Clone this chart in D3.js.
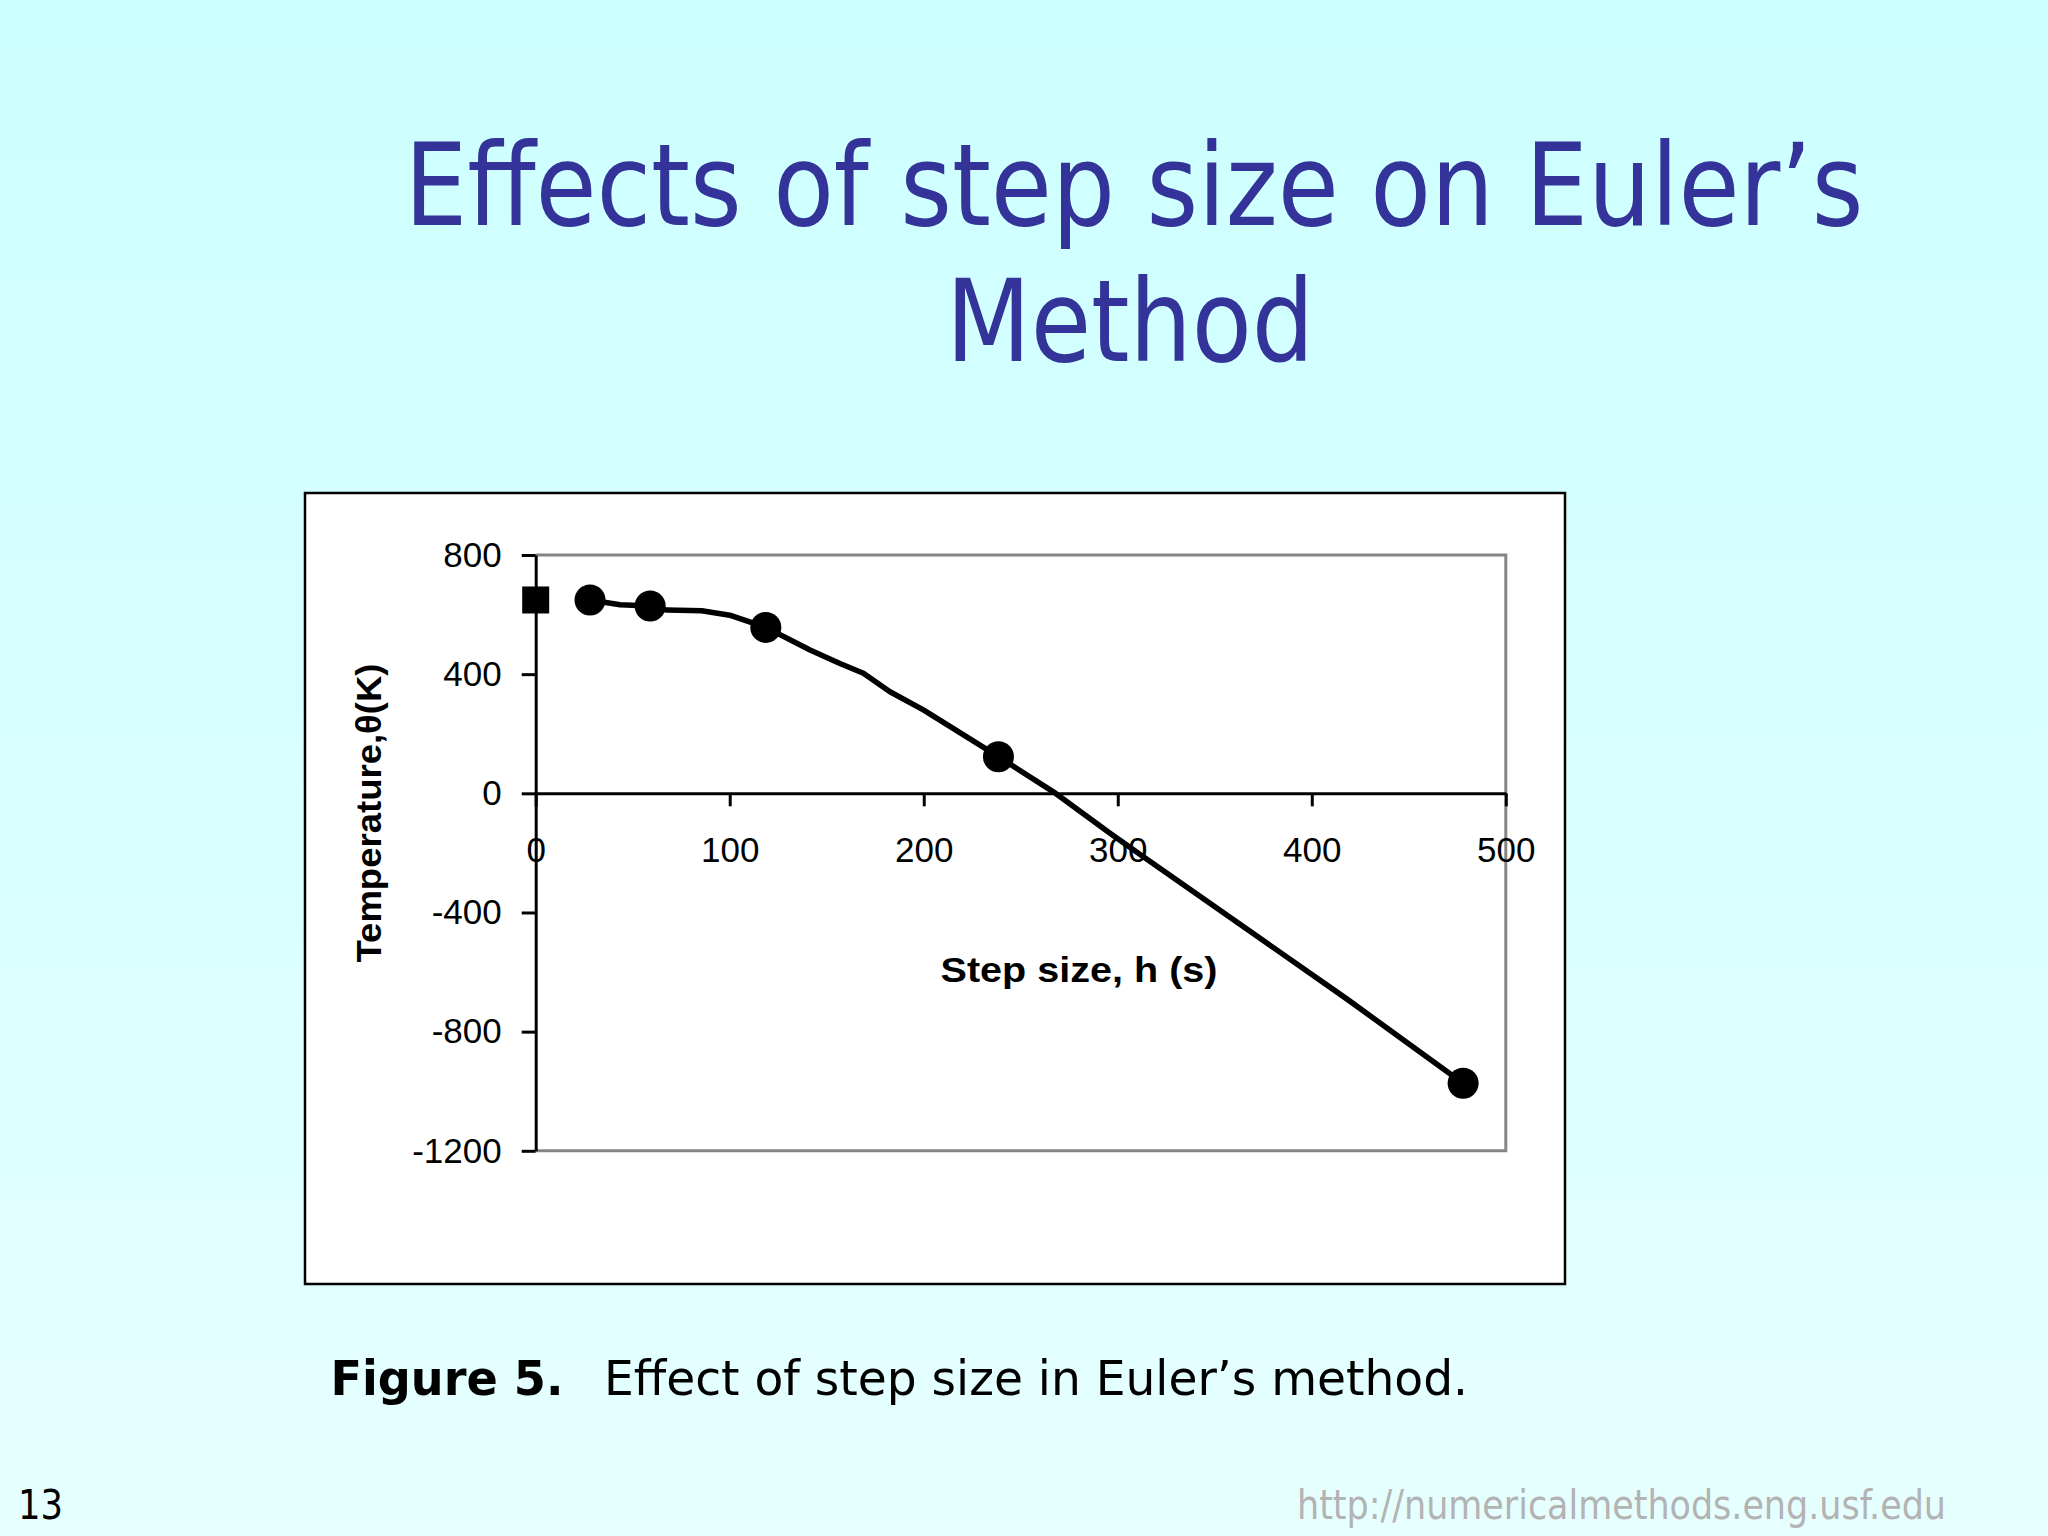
<!DOCTYPE html>
<html>
<head>
<meta charset="utf-8">
<script src="https://cdn.jsdelivr.net/npm/d3@7"></script>
<style>
  html, body { margin: 0; padding: 0; }
  body { width: 2048px; height: 1536px; overflow: hidden; }
</style>
</head>
<body>
<div id="chart"></div>
<script>
// step size h (s) and theta(480)
var lineH = [28, 43.5, 59, 67.5, 85.6, 100, 118.6, 141.4, 156.8, 168.9, 182.6, 199.8, 238.5, 266.8, 296, 313.2, 418, 478];
var lineT = [649, 633, 629, 615, 613, 598, 557, 481, 436, 403, 341, 280, 123, 5, -134, -213, -690, -973];

var markerH = [28, 59, 118.6, 238.5, 478];
var markerT = [649, 629, 557, 123, -973];

var exactH = [0];
var exactT = [649];

var xTicks = [0, 100, 200, 300, 400, 500];
var yTicks = [-1200, -800, -400, 0, 400, 800];

var W = 2048, H = 1536;

var svg = d3.select('#chart')
  .append('svg')
  .attr('width', W)
  .attr('height', H);

// slide background
var grad = svg.append('defs').append('linearGradient')
  .attr('id', 'bg')
  .attr('x1', 0).attr('y1', 0).attr('x2', 0).attr('y2', 1);
grad.append('stop').attr('offset', '0%').attr('stop-color', '#ccffff');
grad.append('stop').attr('offset', '100%').attr('stop-color', '#e6ffff');

svg.append('rect')
  .attr('width', W).attr('height', H)
  .attr('fill', 'url(#bg)');

// title
var title = svg.append('g')
  .attr('fill', '#333399')
  .style('font-family', '"DejaVu Sans Condensed", "DejaVu Sans", sans-serif')
  .style('font-size', '114px');
title.append('text')
  .attr('x', 404.5).attr('y', 225)
  .attr('textLength', 1459).attr('lengthAdjust', 'spacingAndGlyphs')
  .text('Effects of step size on Euler\u2019s');
title.append('text')
  .attr('x', 946).attr('y', 361)
  .attr('textLength', 368).attr('lengthAdjust', 'spacingAndGlyphs')
  .text('Method');

// chart frame
svg.append('rect')
  .attr('x', 305).attr('y', 493)
  .attr('width', 1260).attr('height', 791)
  .attr('fill', '#ffffff')
  .attr('stroke', '#000000')
  .attr('stroke-width', 2.5);

var x = d3.scaleLinear().domain([0, 500]).range([535.7, 1505.8]);
var y = d3.scaleLinear().domain([-1200, 800]).range([1150.8, 555]);

var plot = svg.append('g');

// gray plot area border (top, right, bottom)
plot.append('path')
  .attr('d', 'M' + x(0) + ',' + y(800) + 'H' + x(500) + 'V' + y(-1200) + 'H' + x(0))
  .attr('fill', 'none')
  .attr('stroke', '#858585')
  .attr('stroke-width', 3);

var plain = function(d) { return String(d); };

// x axis through zero
var xAxis = plot.append('g')
  .attr('transform', 'translate(0,' + y(0) + ')')
  .call(d3.axisBottom(x).tickValues(xTicks).tickSize(13).tickSizeOuter(0).tickPadding(31)
    .tickFormat(plain));

// y axis
var yAxis = plot.append('g')
  .attr('transform', 'translate(' + x(0) + ',0)')
  .call(d3.axisLeft(y).tickValues(yTicks).tickSize(14).tickSizeOuter(0).tickPadding(20)
    .tickFormat(plain));

[xAxis, yAxis].forEach(function(a) {
  a.selectAll('path.domain').attr('stroke', '#000').attr('stroke-width', 3);
  a.selectAll('.tick line').attr('stroke', '#000').attr('stroke-width', 3);
  a.selectAll('.tick text')
    .attr('fill', '#000')
    .style('font-family', '"Liberation Sans", Arial, sans-serif')
    .style('font-size', '35px');
});

// axis titles
svg.append('text')
  .attr('x', 1079).attr('y', 982)
  .attr('text-anchor', 'middle')
  .attr('textLength', 277).attr('lengthAdjust', 'spacingAndGlyphs')
  .style('font-family', '"Liberation Sans", Arial, sans-serif')
  .style('font-size', '35px')
  .style('font-weight', 'bold')
  .text('Step size, h (s)');

svg.append('text')
  .attr('transform', 'translate(381,813) rotate(-90)')
  .attr('text-anchor', 'middle')
  .attr('textLength', 299).attr('lengthAdjust', 'spacingAndGlyphs')
  .style('font-family', '"Liberation Sans", Arial, sans-serif')
  .style('font-size', '35px')
  .style('font-weight', 'bold')
  .text('Temperature,\u03b8(K)');

// data line
var lineData = lineH.map(function(h, i) { return [h, lineT[i]]; });
var line = d3.line()
  .x(function(d) { return x(d[0]); })
  .y(function(d) { return y(d[1]); });

plot.append('path')
  .datum(lineData)
  .attr('d', line)
  .attr('fill', 'none')
  .attr('stroke', '#000')
  .attr('stroke-width', 5.5)
  .attr('stroke-linejoin', 'round');

// circle markers
var markers = markerH.map(function(h, i) { return [h, markerT[i]]; });
plot.selectAll('circle.pt')
  .data(markers)
  .enter().append('circle')
  .attr('class', 'pt')
  .attr('cx', function(d) { return x(d[0]); })
  .attr('cy', function(d) { return y(d[1]); })
  .attr('r', 15.5)
  .attr('fill', '#000');

// square marker (exact value)
var sq = 27;
var exact = exactH.map(function(h, i) { return [h, exactT[i]]; });
plot.selectAll('rect.ex')
  .data(exact)
  .enter().append('rect')
  .attr('class', 'ex')
  .attr('x', function(d) { return x(d[0]) - sq / 2; })
  .attr('y', function(d) { return y(d[1]) - sq / 2; })
  .attr('width', sq).attr('height', sq)
  .attr('fill', '#000');

// caption
var cap = svg.append('g')
  .attr('fill', '#000')
  .style('font-family', '"DejaVu Sans Condensed", "DejaVu Sans", sans-serif')
  .style('font-size', '48px');
cap.append('text')
  .attr('x', 330.5).attr('y', 1395)
  .attr('textLength', 233).attr('lengthAdjust', 'spacingAndGlyphs')
  .style('font-weight', 'bold')
  .text('Figure 5.');
cap.append('text')
  .attr('x', 604).attr('y', 1395)
  .attr('textLength', 864).attr('lengthAdjust', 'spacingAndGlyphs')
  .text('Effect of step size in Euler\u2019s method.');

// footer
svg.append('text')
  .attr('x', 18).attr('y', 1519)
  .attr('textLength', 45).attr('lengthAdjust', 'spacingAndGlyphs')
  .style('font-family', '"DejaVu Sans Condensed", "DejaVu Sans", sans-serif')
  .style('font-size', '41px')
  .attr('fill', '#000')
  .text('13');

svg.append('text')
  .attr('x', 1297).attr('y', 1519)
  .attr('textLength', 649).attr('lengthAdjust', 'spacingAndGlyphs')
  .style('font-family', '"DejaVu Sans Condensed", "DejaVu Sans", sans-serif')
  .style('font-size', '41px')
  .attr('fill', '#b3b3b3')
  .text('http://numericalmethods.eng.usf.edu');
</script>
</body>
</html>
